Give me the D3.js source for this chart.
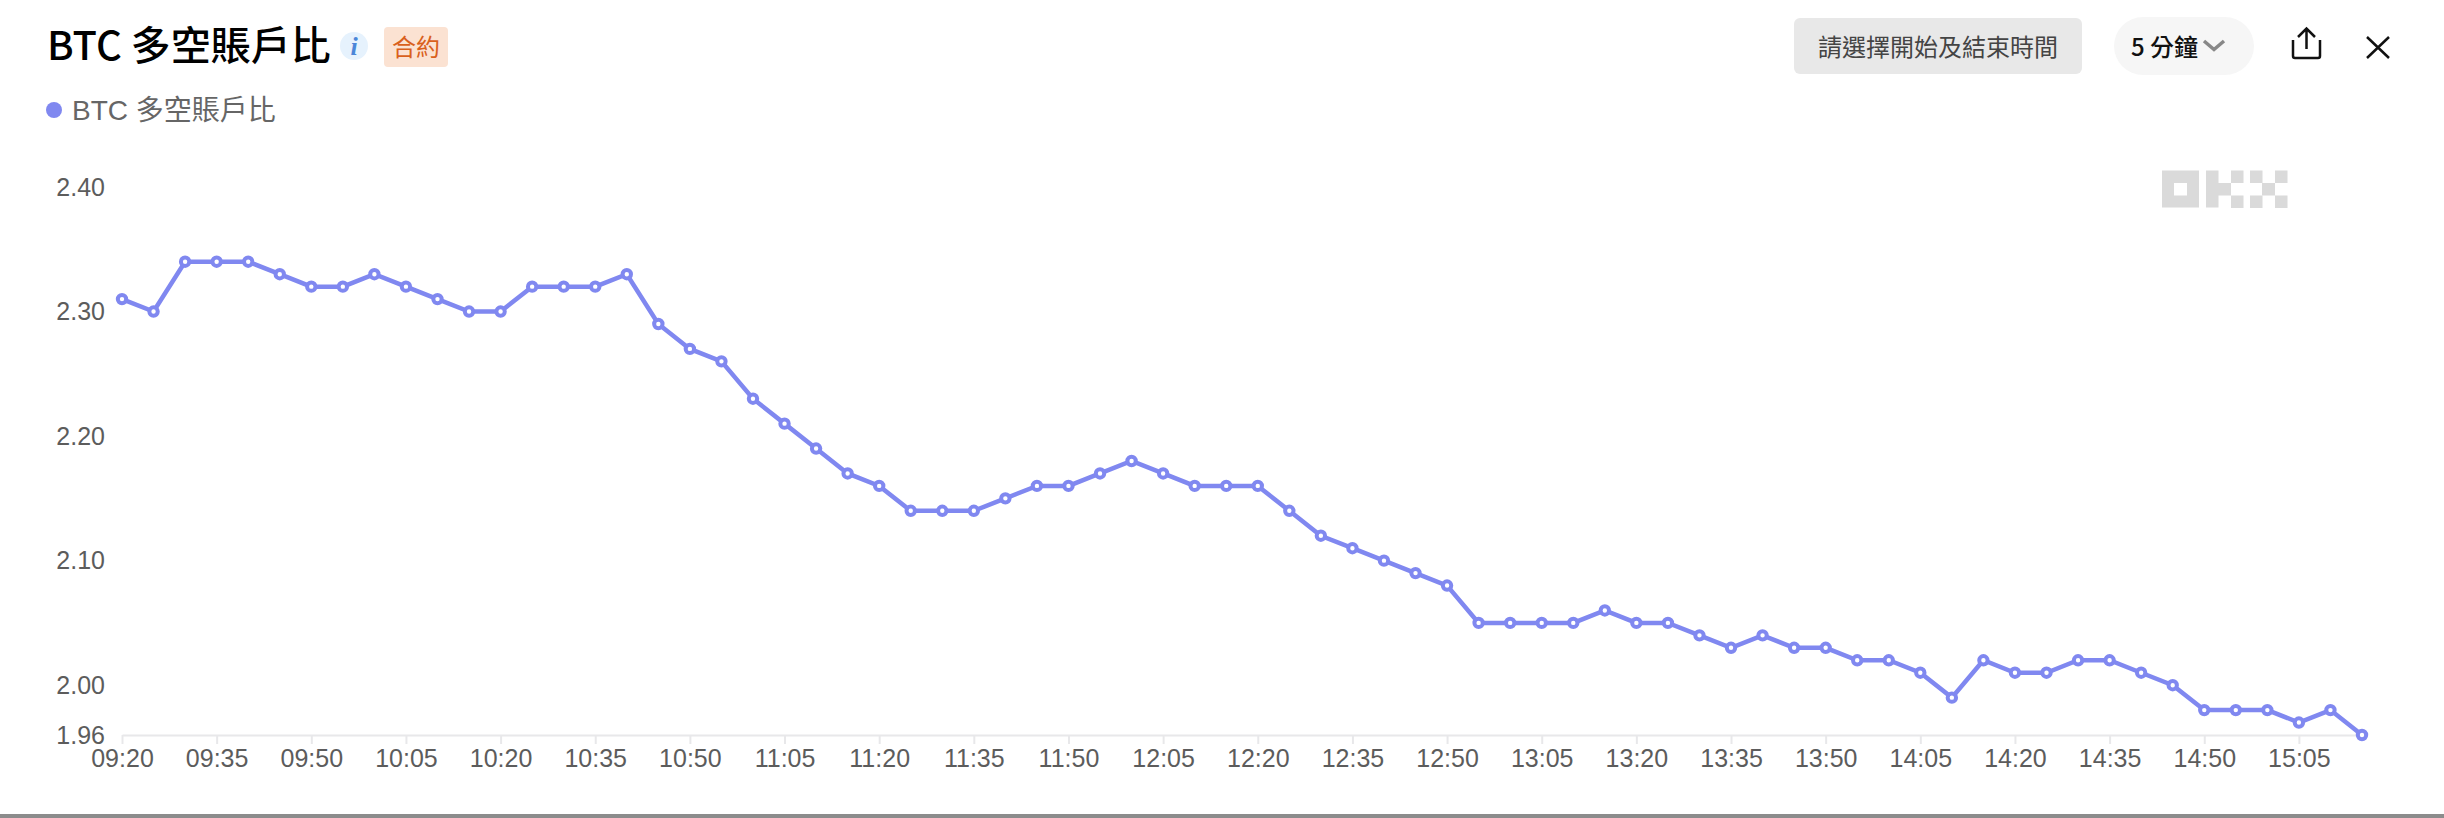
<!DOCTYPE html>
<html lang="zh-Hant">
<head>
<meta charset="UTF-8">
<title>BTC 多空賬戶比</title>
<script src="https://d3js.org/d3.v7.min.js"></script>
<style>
    html, body { margin: 0; padding: 0; background: #fff; overflow: hidden; }
    svg { display: block; }
    .cjk { font-family: "Liberation Sans", "Noto Sans CJK TC", sans-serif; }
    .heading { font-family: "Noto Sans CJK TC", sans-serif; }
    .tick text { font-family: "Liberation Sans", Arial, sans-serif; font-size: 25px; fill: #5c5c5c; }
</style>
</head>
<body>
<svg width="2444" height="818"></svg>
<script>
const times = [
    "09:20","09:25","09:30","09:35","09:40","09:45","09:50","09:55","10:00","10:05","10:10","10:15",
    "10:20","10:25","10:30","10:35","10:40","10:45","10:50","10:55","11:00","11:05","11:10","11:15",
    "11:20","11:25","11:30","11:35","11:40","11:45","11:50","11:55","12:00","12:05","12:10","12:15",
    "12:20","12:25","12:30","12:35","12:40","12:45","12:50","12:55","13:00","13:05","13:10","13:15",
    "13:20","13:25","13:30","13:35","13:40","13:45","13:50","13:55","14:00","14:05","14:10","14:15",
    "14:20","14:25","14:30","14:35","14:40","14:45","14:50","14:55","15:00","15:05","15:10","15:15"
];
const ratio = [
    2.31,2.30,2.34,2.34,2.34,2.33,2.32,2.32,2.33,2.32,2.31,2.30,
    2.30,2.32,2.32,2.32,2.33,2.29,2.27,2.26,2.23,2.21,2.19,2.17,
    2.16,2.14,2.14,2.14,2.15,2.16,2.16,2.17,2.18,2.17,2.16,2.16,
    2.16,2.14,2.12,2.11,2.10,2.09,2.08,2.05,2.05,2.05,2.05,2.06,
    2.05,2.05,2.04,2.03,2.04,2.03,2.03,2.02,2.02,2.01,1.99,2.02,
    2.01,2.01,2.02,2.02,2.01,2.00,1.98,1.98,1.98,1.97,1.98,1.96
];
const xTickLabels = times.filter((t, i) => i % 3 === 0 && t !== "15:10");
const yTickValues = [1.96, 2.00, 2.10, 2.20, 2.30, 2.40];

const lineColor = "#8088f0";
const svg = d3.select("svg");

const x = d3.scalePoint().domain(times).range([122, 2362]);
const y = d3.scaleLinear().domain([1.96, 2.40]).range([735, 187]);

// x axis
const xAxis = svg.append("g")
    .attr("transform", "translate(0,735)")
    .call(d3.axisBottom(x).tickValues(xTickLabels).tickSize(9).tickPadding(5).tickSizeOuter(0));
xAxis.select(".domain").attr("stroke", "#e8e8ea").attr("stroke-width", 2);
xAxis.selectAll(".tick line").attr("stroke", "#e8e8ea").attr("stroke-width", 2);

// y axis, labels only
const yAxis = svg.append("g")
    .attr("transform", "translate(105,0)")
    .call(d3.axisLeft(y).tickValues(yTickValues).tickFormat(d3.format(".2f")).tickSize(0).tickPadding(0));
yAxis.select(".domain").remove();

// watermark
const logo = svg.append("g").attr("transform", "translate(2162,170.5)").attr("fill", "#dadada");
logo.append("path").attr("fill-rule", "evenodd").attr("d", "M0 0H37V37H0ZM12 12.5V25H25V12.5Z");
[[44,0,12.5,37],[56,12.5,13,12.5],[69,0,12.5,12.5],[69,25,12.5,12.5],
 [88,0,12.5,12.5],[88,25,12.5,12.5],[100,12.5,13,12.5],[113,0,12.5,12.5],[113,25,12.5,12.5]]
    .forEach(r => logo.append("rect").attr("x", r[0]).attr("y", r[1]).attr("width", r[2]).attr("height", r[3]));

// series
svg.append("path")
    .datum(ratio)
    .attr("fill", "none")
    .attr("stroke", lineColor)
    .attr("stroke-width", 4.5)
    .attr("d", d3.line().x((d, i) => x(times[i])).y(d => y(d)));

svg.append("g").selectAll("circle")
    .data(ratio)
    .join("circle")
    .attr("cx", (d, i) => x(times[i]))
    .attr("cy", d => y(d))
    .attr("r", 4.2)
    .attr("fill", "#fff")
    .attr("stroke", lineColor)
    .attr("stroke-width", 4);

// header
svg.append("text").attr("class", "heading").attr("x", 47).attr("y", 60)
    .attr("font-size", 40).attr("font-weight", 500).attr("fill", "#000").text("BTC 多空賬戶比");

svg.append("circle").attr("cx", 354).attr("cy", 46).attr("r", 14).attr("fill", "#e6f2fd");
svg.append("text").attr("x", 354).attr("y", 55).attr("text-anchor", "middle")
    .attr("font-family", "Liberation Serif, serif").attr("font-style", "italic").attr("font-weight", 700)
    .attr("font-size", 26).attr("fill", "#4a86d8").text("i");

svg.append("rect").attr("x", 384).attr("y", 27).attr("width", 64).attr("height", 40).attr("rx", 4).attr("fill", "#fbe2d2");
svg.append("text").attr("class", "heading").attr("x", 416).attr("y", 56).attr("text-anchor", "middle")
    .attr("font-size", 24).attr("fill", "#d9601c").text("合約");

svg.append("circle").attr("cx", 54).attr("cy", 110).attr("r", 8).attr("fill", lineColor);
svg.append("text").attr("class", "cjk").attr("x", 72).attr("y", 120)
    .attr("font-size", 28).attr("fill", "#666").text("BTC 多空賬戶比");

// controls
svg.append("rect").attr("x", 1794).attr("y", 18).attr("width", 288).attr("height", 56).attr("rx", 6).attr("fill", "#e8e8e8");
svg.append("text").attr("class", "heading").attr("x", 1938).attr("y", 56).attr("text-anchor", "middle")
    .attr("font-size", 24).attr("fill", "#444").text("請選擇開始及結束時間");

svg.append("rect").attr("x", 2114).attr("y", 17).attr("width", 140).attr("height", 58).attr("rx", 29).attr("fill", "#f6f6f6");
svg.append("text").attr("class", "heading").attr("x", 2131).attr("y", 56)
    .attr("font-size", 24).attr("font-weight", 500).attr("fill", "#111").text("5 分鐘");
svg.append("path").attr("d", "M2204 41L2214 49.5L2224 41").attr("fill", "none").attr("stroke", "#888").attr("stroke-width", 3.5);

svg.append("path").attr("d", "M2293 40V56Q2293 58 2295 58H2318Q2320 58 2320 56V40M2306.5 49V29M2298 37L2306.5 28.5L2315 37")
    .attr("fill", "none").attr("stroke", "#111").attr("stroke-width", 2.5);
svg.append("path").attr("d", "M2367 37L2389 58M2389 37L2367 58").attr("fill", "none").attr("stroke", "#111").attr("stroke-width", 2.5);

// cut-off page edge at the bottom
svg.append("rect").attr("x", 0).attr("y", 814).attr("width", 2444).attr("height", 4).attr("fill", "#8c8c8c");
</script>
</body>
</html>
